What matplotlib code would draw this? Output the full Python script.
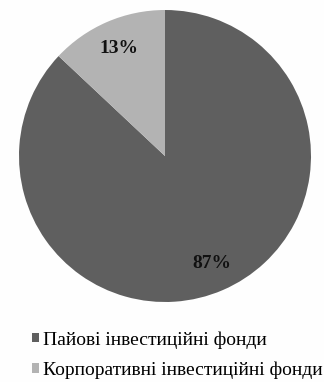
import matplotlib
matplotlib.use("Agg")
import matplotlib.pyplot as plt
from matplotlib.patches import Patch

labels = ["Пайові інвестиційні фонди", "Корпоративні інвестиційні фонди"]
values = [87, 13]
colors = ["#5f5f5f", "#b3b3b3"]

plt.rcParams['font.family'] = ['Liberation Serif', 'DejaVu Serif']

W, H = 324, 382
fig = plt.figure(figsize=(W / 100, H / 100), dpi=100)
fig.patch.set_facecolor("#fefefe")
cx, cy, r = 165, 156, 146
ax = fig.add_axes([(cx - r) / W, 1 - (cy + r) / H, 2 * r / W, 2 * r / H])
wedges, texts, autotexts = ax.pie(values, colors=colors, startangle=90, counterclock=False,
                                  autopct=lambda p: f"{p:.0f}%", pctdistance=0.8,
                                  wedgeprops=dict(linewidth=0),
                                  textprops=dict(fontsize=14, fontweight='bold', color='#111111'))
ax.set_xlim(-1, 1)
ax.set_ylim(-1, 1)
ax.set_aspect('equal')

handles = [Patch(facecolor=c, edgecolor='none') for c in colors]
fig.legend(handles, labels, loc='center left', bbox_to_anchor=(32 / W, 1 - 355 / H),
           frameon=False, prop=dict(family=['Liberation Serif', 'DejaVu Serif'], size=14),
           handlelength=0.37, handleheight=0.37,
           handletextpad=0.2, labelspacing=0.65, borderaxespad=0, borderpad=0)

fig.savefig("out.png", dpi=100, facecolor=fig.get_facecolor())
